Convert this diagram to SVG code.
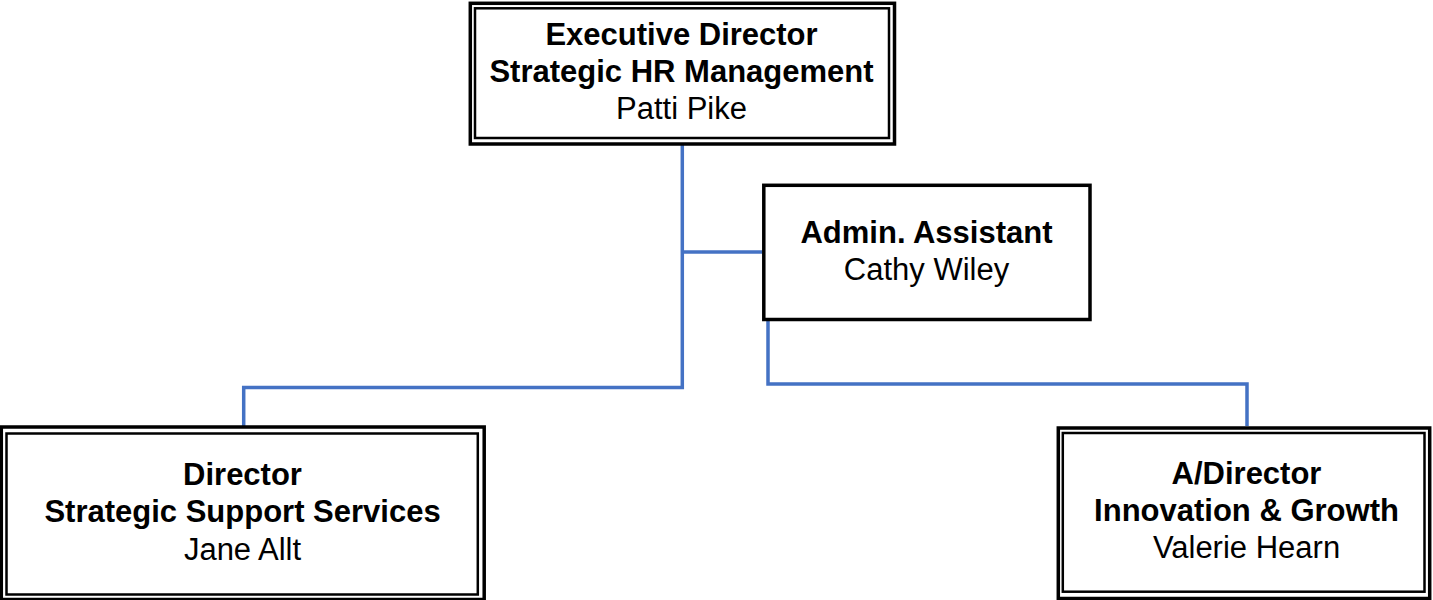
<svg xmlns="http://www.w3.org/2000/svg" width="1433" height="600" viewBox="0 0 1433 600">
<style>
.outer{fill:none;stroke:#000;stroke-width:3.5}
.inner{fill:none;stroke:#000;stroke-width:2.5}
.single{fill:#fff;stroke:#000;stroke-width:3.5}
.t{font-family:"Liberation Sans",Arial,sans-serif;font-size:31px;fill:#000;text-anchor:middle}
.b{font-weight:bold}
.conn{fill:none;stroke:#4472C4;stroke-width:3.5;stroke-linejoin:miter}
</style>
<rect width="1433" height="600" fill="#fff"/>
<g id="connectors">
<path class="conn" d="M682.3 145 V387.5 H243.7 V426"/>
<path class="conn" d="M682.3 252 H762"/>
<path class="conn" d="M768 321 V384 H1247 V426"/>
</g>
<g id="exec">
<rect class="outer" x="470.3" y="3.3" width="424.2" height="140.7" fill="#fff"/>
<rect class="inner" x="475" y="8.3" width="414" height="129.7"/>
<text class="t b" x="681.5" y="44.5">Executive Director</text>
<text class="t b" x="681.5" y="81.5">Strategic HR Management</text>
<text class="t" x="681.5" y="118.5">Patti Pike</text>
</g>
<g id="admin">
<rect class="single" x="763.8" y="185.3" width="326.2" height="134.2"/>
<text class="t b" x="926.5" y="243">Admin. Assistant</text>
<text class="t" x="926.5" y="280">Cathy Wiley</text>
</g>
<g id="support">
<rect class="outer" x="1.3" y="427" width="482.9" height="172.5" fill="#fff"/>
<rect class="inner" x="6.5" y="433.5" width="471.3" height="161"/>
<text class="t b" x="242.5" y="485">Director</text>
<text class="t b" x="242.5" y="522">Strategic Support Services</text>
<text class="t" x="242.5" y="559.5">Jane Allt</text>
</g>
<g id="innovation">
<rect class="outer" x="1058.3" y="428" width="371.4" height="170.5" fill="#fff"/>
<rect class="inner" x="1062.8" y="433" width="361.7" height="158.7"/>
<text class="t b" x="1246.5" y="483.5">A/Director</text>
<text class="t b" x="1246.5" y="521">Innovation &amp; Growth</text>
<text class="t" x="1246.5" y="558">Valerie Hearn</text>
</g>
</svg>
